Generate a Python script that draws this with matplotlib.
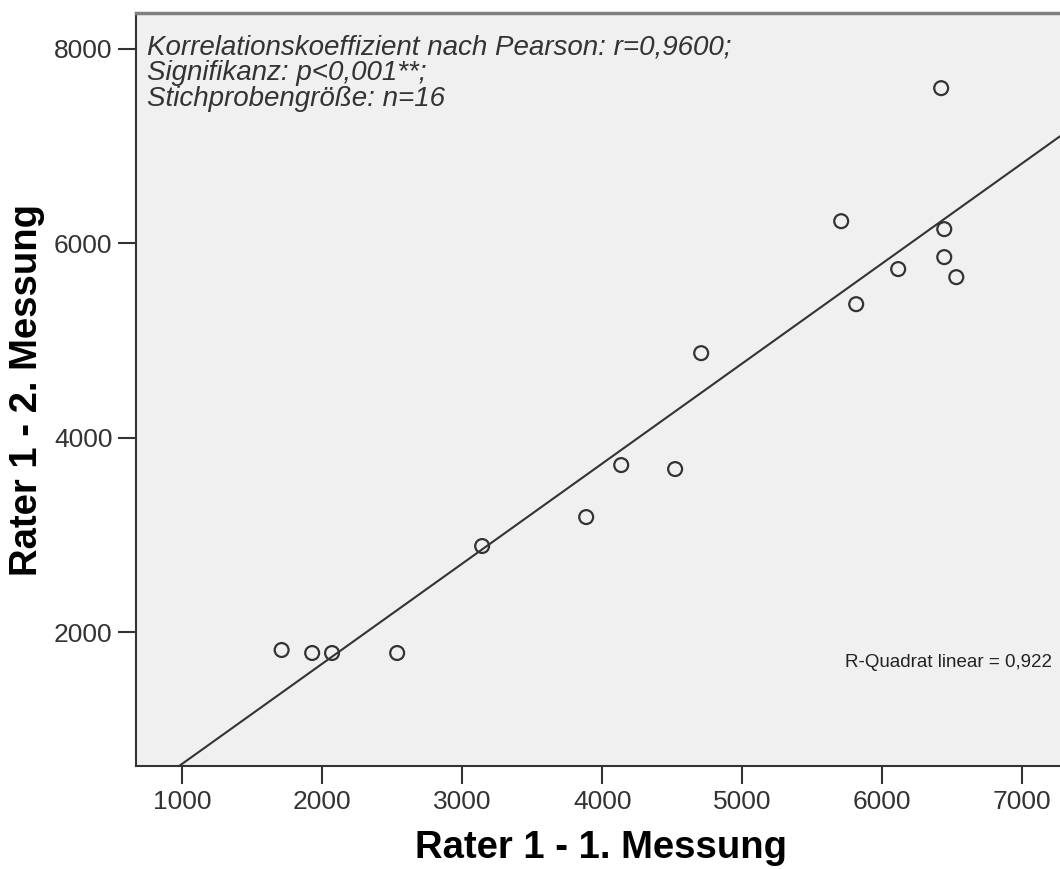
#!/usr/bin/env python3

import numpy as np
import matplotlib
matplotlib.use('Agg')
import matplotlib.pyplot as plt

messung_1 = [1711, 1929, 2071, 2536, 3143, 3886, 4136, 4521,
             4707, 5707, 6443, 6443, 6114, 6529, 5814, 6421]
messung_2 = [1815, 1784, 1784, 1784, 2885, 3183, 3718, 3677,
             4870, 6228, 6146, 5858, 5735, 5652, 5374, 7597]

x_ticks = [1000, 2000, 3000, 4000, 5000, 6000, 7000]
y_ticks = [2000, 4000, 6000, 8000]

x_label = 'Rater 1 - 1. Messung'
y_label = 'Rater 1 - 2. Messung'
stats_text = ('Korrelationskoeffizient nach Pearson: r=0,9600;\n'
              'Signifikanz: p<0,001**;\n'
              'Stichprobengröße: n=16')
r2_text = 'R-Quadrat linear = 0,922'

plt.rcParams['font.family'] = ['Liberation Sans', 'DejaVu Sans']

fig = plt.figure(figsize=(10.6, 8.69), dpi=100)
# the plot area runs past the right edge, as in the original export
ax = fig.add_axes([0.1283, 0.1185, 0.8917, 0.8665])
ax.set_facecolor('#f0f0f0')

ax.set_xlim(671, 7421)
ax.set_ylim(621, 8370)

# linear fit over the whole visible range
slope, intercept = np.polyfit(messung_1, messung_2, 1)
xs = np.array(ax.get_xlim())
ax.plot(xs, slope * xs + intercept, color='#333333', linewidth=1.5, zorder=2)

ax.scatter(messung_1, messung_2, s=100, facecolors='none',
           edgecolors='#333333', linewidths=1.6, zorder=3)

ax.set_xticks(x_ticks)
ax.set_yticks(y_ticks)
ax.tick_params(direction='out', length=13, width=1.5, color='#333333',
               labelsize=19, labelcolor='#333333', pad=4)

for side in ['left', 'bottom']:
    ax.spines[side].set_color('#333333')
    ax.spines[side].set_linewidth(1.5)
ax.spines['top'].set_color('#808080')
ax.spines['top'].set_linewidth(2.5)
ax.spines['right'].set_visible(False)

ax.set_xlabel(x_label, fontsize=27.5, fontweight='bold', color='black')
ax.xaxis.label.set_va('baseline')
ax.xaxis.set_label_coords(0.492, -0.122)
ax.set_ylabel(y_label, fontsize=27.5, fontweight='bold', color='black')
ax.yaxis.label.set_va('baseline')
ax.yaxis.set_label_coords(-0.105, 0.5)

ax.text(0.0116, 0.971, stats_text, transform=ax.transAxes, fontsize=20,
        style='italic', color='#333333', va='top', ha='left', linespacing=0.97)
ax.text(0.969, 0.137, r2_text, transform=ax.transAxes, fontsize=13.5,
        color='#222222', va='center', ha='right')

fig.savefig('out.png', dpi=100)
